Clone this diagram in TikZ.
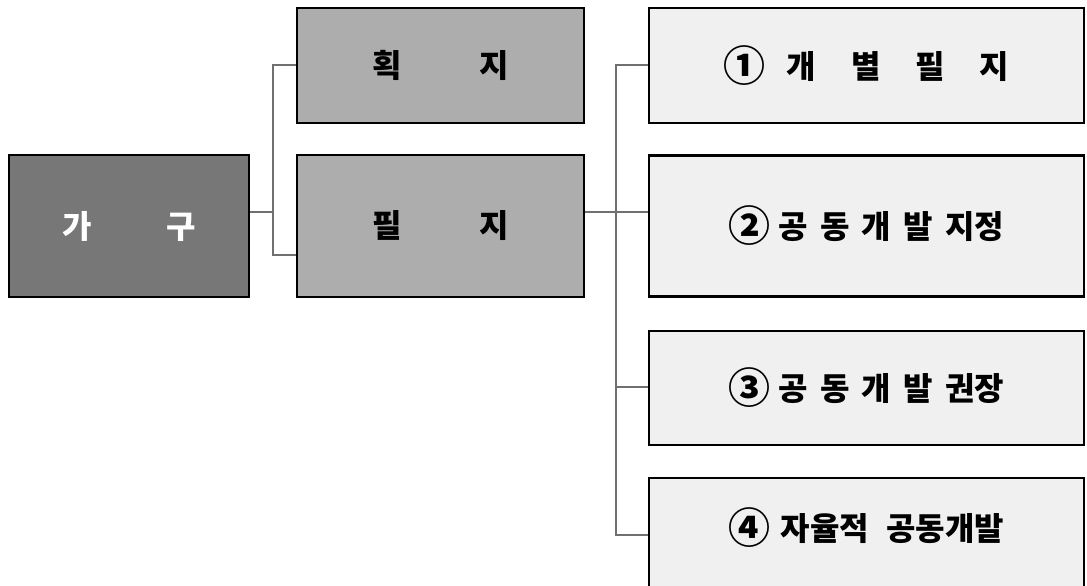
\documentclass[tikz,border=0pt]{standalone}
\usepackage{fontspec}
\newfontfamily\kr{Noto Sans CJK KR}
\definecolor{dark}{HTML}{777777}
\definecolor{mid}{HTML}{ADADAD}
\definecolor{light}{HTML}{F0F0F0}
\definecolor{wire}{HTML}{707070}
\newcommand{\cnum}[1]{\raisebox{-3pt}{\fontsize{42}{42}\selectfont #1}}
\begin{document}
\begin{tikzpicture}[x=1pt,y=-1pt,
  box/.style={draw=black,line width=2.7pt,inner sep=0pt,anchor=center,
    font=\kr\bfseries\fontsize{32}{36}\selectfont},
  wirestyle/.style={draw=wire,line width=1.5pt}]
\useasboundingbox (0,0) rectangle (1087,586);
% nodes
\node[box,fill=dark,text=white,minimum width=240pt,minimum height=142pt] (gagu) at (129,226) {가\hspace{75pt}구};
\node[box,fill=mid,minimum width=287pt,minimum height=115pt] (hoek) at (440.5,65.5) {\raisebox{-2pt}{획\hspace{78pt}지}};
\node[box,fill=mid,minimum width=287pt,minimum height=142pt] (pil) at (440.5,226) {필\hspace{78pt}지};
\node[box,fill=light,minimum width=435pt,minimum height=115pt] (r1) at (866.5,65.5) {\cnum{①}\hspace{21pt}개\hspace{35pt}별\hspace{35pt}필\hspace{35pt}지};
\node[box,fill=light,minimum width=435pt,minimum height=141pt] (r2) at (866.5,226) {\cnum{②}\hspace{8pt}공\hspace{12pt}동\hspace{12pt}개\hspace{12pt}발\hspace{13pt}지정};
\node[box,fill=light,minimum width=435pt,minimum height=114pt] (r3) at (866.5,388) {\cnum{③}\hspace{8pt}공\hspace{12pt}동\hspace{12pt}개\hspace{12pt}발\hspace{13pt}권장};
\node[box,fill=light,minimum width=435pt,minimum height=142pt] (r4) at (866.5,549) {};
\node[font=\kr\bfseries\fontsize{32}{36}\selectfont,inner sep=0pt] (r4t) at (866.5,528) {\cnum{④}\hspace{10pt}자율적\hspace{17pt}공동개발};
% connector coordinates
\coordinate (a0) at (273,212);
\coordinate (a1) at (273,65);
\coordinate (a2) at (273,255);
\coordinate (b0) at (616,212);
\coordinate (b1) at (616,65);
\coordinate (b3) at (616,387);
\coordinate (b4) at (616,535);
% connectors
\draw[wirestyle] (gagu.east |- a0) -- (a0);
\draw[wirestyle] (hoek.west |- a1) -- (a1) -- (a2) -- (pil.west |- a2);
\draw[wirestyle] (pil.east |- b0) -- (r2.west |- b0);
\draw[wirestyle] (r1.west |- b1) -- (b1) -- (b4) -- (r4.west |- b4);
\draw[wirestyle] (b3) -- (r3.west |- b3);
\end{tikzpicture}
\end{document}
